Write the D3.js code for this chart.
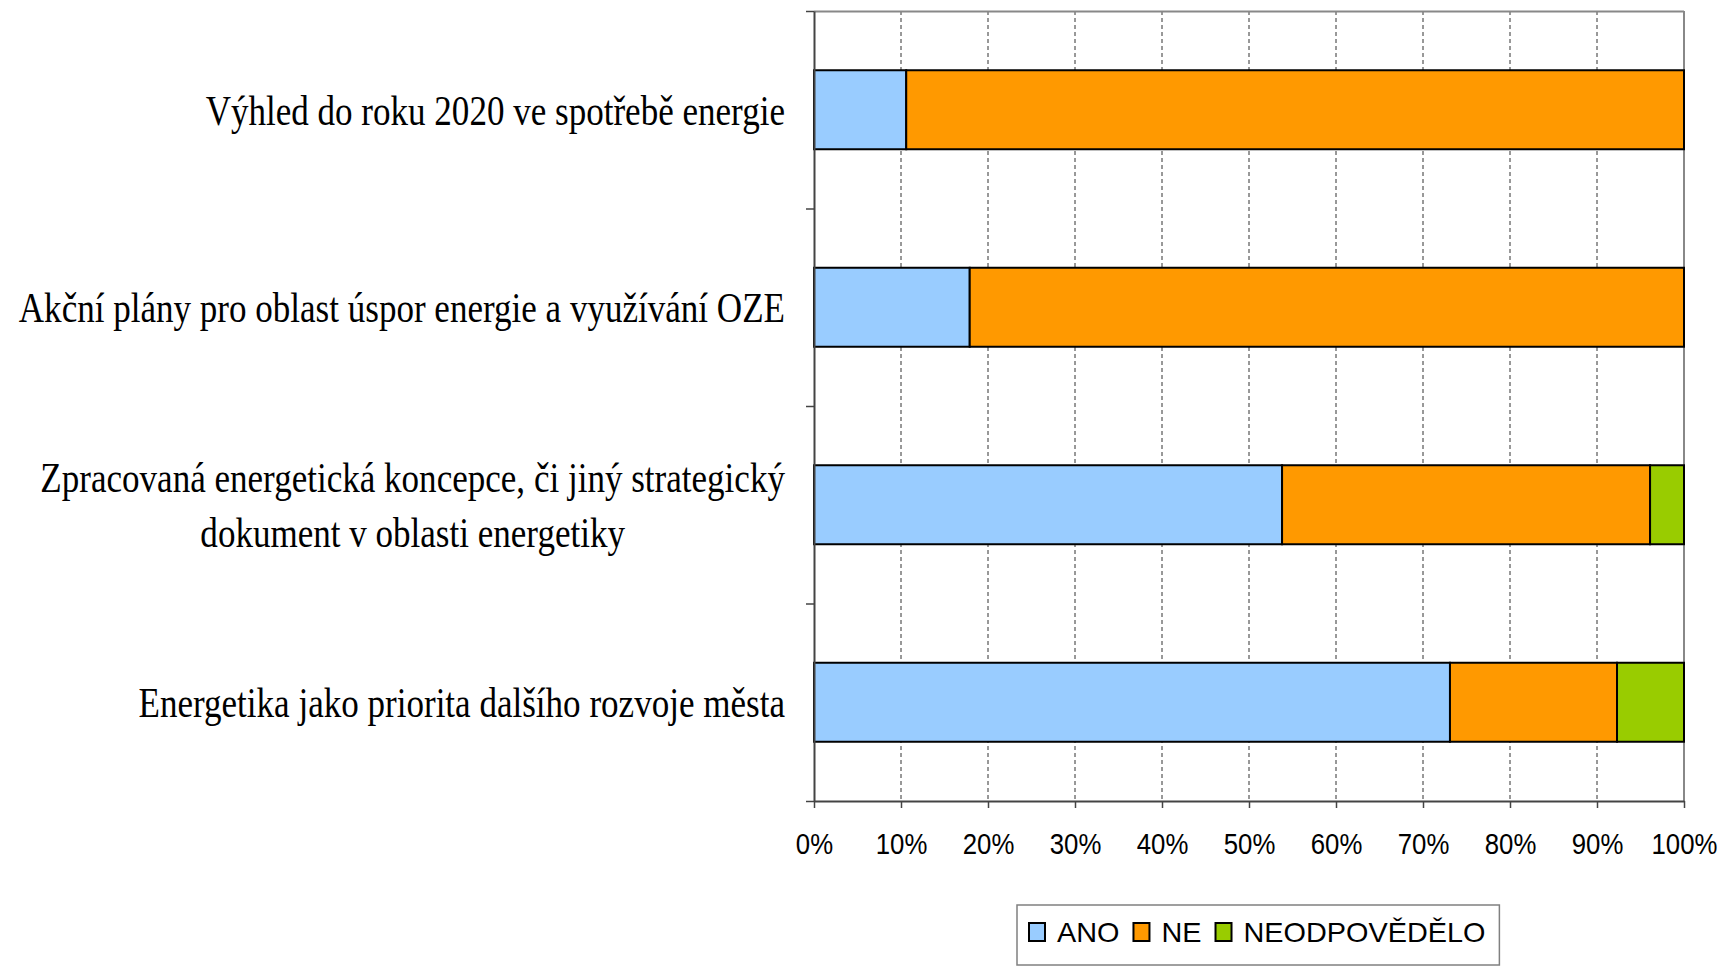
<!DOCTYPE html>
<html><head><meta charset="utf-8">
<script src="https://cdn.jsdelivr.net/npm/d3@7"></script>
<style>html,body{margin:0;padding:0;background:#fff;}svg{display:block;}</style>
</head><body>
<svg id="chart" width="1721" height="966"></svg>
<script>
const categories = [
  "Výhled do roku 2020 ve spotřebě energie",
  "Akční plány pro oblast úspor energie a využívání OZE",
  "Zpracovaná energetická koncepce, či jiný strategický\ndokument v oblasti energetiky",
  "Energetika jako priorita dalšího rozvoje města"
];
const seriesNames = ["ANO", "NE", "NEODPOVĚDĚLO"];
const ano = [10.6, 17.9, 53.8, 73.1];
const ne = [89.4, 82.1, 42.3, 19.2];
const neodpovedelo = [0, 0, 3.9, 7.7];
const xTicks = [0, 10, 20, 30, 40, 50, 60, 70, 80, 90, 100];
const colors = ["#99CCFF", "#FF9900", "#99CC00"];

const svg = d3.select("#chart");
const L = 814, R = 1684, T = 11, B = 801;
const x = d3.scaleLinear().domain([0, 100]).range([L, R]);
const y = d3.scaleBand().domain(categories).range([T, B]).paddingInner(0.6).paddingOuter(0.3);
const yLin = d3.scaleLinear().domain([0, categories.length]).range([T, B]);

// gridlines
svg.append("g").selectAll("line").data(xTicks.filter(d => d > 0 && d < 100)).join("line")
  .attr("x1", d => x(d)).attr("x2", d => x(d)).attr("y1", T).attr("y2", B)
  .attr("stroke", "#333").attr("stroke-width", 1).attr("stroke-dasharray", "4,3");

// plot border top/right
svg.append("line").attr("x1", L).attr("x2", R).attr("y1", T + 0.5).attr("y2", T + 0.5).attr("stroke", "#888").attr("stroke-width", 2);
svg.append("line").attr("x1", R).attr("x2", R).attr("y1", T).attr("y2", B).attr("stroke", "#888").attr("stroke-width", 2);

// stacked bars
const table = categories.map((c, i) => ({cat: c, ANO: ano[i], NE: ne[i], "NEODPOVĚDĚLO": neodpovedelo[i]}));
const stack = d3.stack().keys(seriesNames)(table);
svg.append("g").selectAll("g").data(stack).join("g")
  .attr("fill", (d, i) => colors[i])
  .selectAll("rect").data(d => d.filter(p => p[1] - p[0] > 0)).join("rect")
  .attr("x", d => x(d[0])).attr("width", d => x(d[1]) - x(d[0]))
  .attr("y", d => y(d.data.cat)).attr("height", y.bandwidth())
  .attr("stroke", "#000").attr("stroke-width", 2);

// bottom axis
const xAxis = svg.append("g").attr("transform", `translate(0,${B})`)
  .call(d3.axisBottom(x).tickValues(xTicks).tickFormat(d => d + "%").tickSize(7).tickSizeOuter(0));
xAxis.select(".domain").attr("stroke", "#444").attr("stroke-width", 2);
xAxis.selectAll(".tick line").attr("stroke", "#444").attr("stroke-width", 1.5);
xAxis.selectAll(".tick text")
  .attr("y", 32).attr("dy", "0.71em")
  .attr("font-family", "'Liberation Sans', Arial, sans-serif").attr("font-size", 30).attr("fill", "#000")
  .attr("transform", "scale(0.86,1)");

// left axis
const yAxis = svg.append("g").attr("transform", `translate(${L},0)`)
  .call(d3.axisLeft(yLin).tickValues(d3.range(categories.length + 1)).tickFormat("").tickSize(8).tickSizeOuter(0));
yAxis.select(".domain").attr("stroke", "#444").attr("stroke-width", 2);
yAxis.selectAll(".tick line").attr("stroke", "#444").attr("stroke-width", 1.5);

// category labels
const labelRight = 785, sx = 0.815, lineH = 55, catSize = 43;
categories.forEach(c => {
  const lines = c.split("\n");
  const g = svg.append("g");
  const cy = y(c) + y.bandwidth() / 2;
  const texts = lines.map((ln, j) => g.append("text").text(ln)
    .attr("font-family", "'Liberation Serif', 'Times New Roman', serif")
    .attr("font-size", catSize).attr("fill", "#000")
    .attr("text-anchor", "middle").attr("dy", "0.35em"));
  const widths = texts.map(t => t.node().getComputedTextLength() * sx);
  const maxW = d3.max(widths);
  const cx = labelRight - maxW / 2;
  texts.forEach((t, j) => {
    const ly = cy + (j - (lines.length - 1) / 2) * lineH;
    t.attr("transform", `translate(${cx},${ly}) scale(${sx},1)`);
  });
});

// legend
const leg = svg.append("g");
const legBox = leg.append("rect").attr("fill", "#fff").attr("stroke", "#808080").attr("stroke-width", 1.5);
let lx = 1029;
const ly = 932;
const lsx = 1.03;
seriesNames.forEach((s, i) => {
  leg.append("rect").attr("x", lx).attr("y", ly - 9).attr("width", 16).attr("height", 18)
    .attr("fill", colors[i]).attr("stroke", "#000").attr("stroke-width", 2);
  const t = leg.append("text").text(s)
    .attr("font-family", "'Liberation Sans', Arial, sans-serif").attr("font-size", 28).attr("fill", "#000")
    .attr("dy", "0.35em").attr("transform", `translate(${lx + 28},${ly}) scale(${lsx},1)`);
  const w = t.node().getComputedTextLength() * lsx;
  lx = lx + 28 + w + 14;
});
legBox.attr("x", 1017).attr("y", 905).attr("width", lx - 1017).attr("height", 60);
</script>
</body></html>
